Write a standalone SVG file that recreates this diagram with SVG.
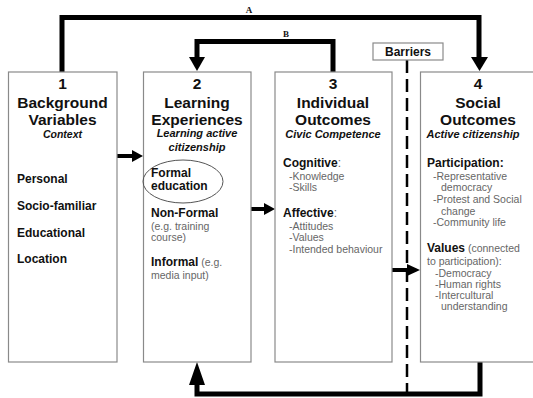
<svg xmlns="http://www.w3.org/2000/svg" width="533" height="398" viewBox="0 0 533 398">
<style>
text{font-family:"Liberation Sans",Arial,sans-serif;fill:#111}
.box{fill:#fff;stroke:#8a8a8a;stroke-width:1.2}
.num,.ttl{font-size:15.5px;font-weight:bold;text-anchor:middle}
.sub{font-size:11px;font-weight:bold;font-style:italic;text-anchor:middle}
.b{font-size:12px;font-weight:bold}
.g{font-size:10.5px;fill:#666;font-weight:normal}
.con{fill:none;stroke:#000;stroke-width:5}
.arr{fill:none;stroke:#000;stroke-width:4}
.lbl{font-family:"Liberation Serif","Times New Roman",serif;font-size:9px;font-weight:bold;text-anchor:middle}
</style>
<rect width="533" height="398" fill="#fff"/>
<g id="connectors">
<path class="con" d="M62,72 V17.5 H479 V58"/>
<polygon points="471,57 488,57 479.5,71"/>
<text class="lbl" x="249" y="13">A</text>
<path class="con" d="M333,72 V41.5 H197 V58"/>
<polygon points="189,57 205,57 197,71"/>
<text class="lbl" x="286" y="37">B</text>
<path class="con" d="M480,362 V394 H197 V384"/>
<polygon points="189,385 205,385 197,362"/>
<line class="arr" x1="117" y1="156" x2="134" y2="156"/>
<polygon points="132,150 143,156 132,162"/>
<line class="arr" x1="251" y1="209" x2="265" y2="209"/>
<polygon points="264,203 275,209 264,215"/>
<line class="arr" x1="392" y1="270" x2="409" y2="270"/>
<polygon points="407,264 420,270 407,276"/>
</g>
<g id="barriers">
<line x1="407" y1="60" x2="407" y2="398" stroke="#000" stroke-width="2.5" stroke-dasharray="13 6"/>
<rect class="box" x="373" y="43" width="70" height="17"/>
<text class="b" x="408" y="56" text-anchor="middle">Barriers</text>
</g>
<g id="box1">
<rect class="box" x="8.5" y="72" width="108.5" height="290"/>
<text class="num" x="62.5" y="89">1</text>
<text class="ttl" x="62.5" y="107.5">Background</text>
<text class="ttl" x="62.5" y="124.5">Variables</text>
<text class="sub" x="62.5" y="138" style="font-size:10.5px">Context</text>
<text class="b" x="17" y="183">Personal</text>
<text class="b" x="17" y="210">Socio-familiar</text>
<text class="b" x="17" y="237">Educational</text>
<text class="b" x="17" y="263">Location</text>
</g>
<g id="box2">
<rect class="box" x="143.5" y="72" width="107.5" height="290"/>
<text class="num" x="197" y="89">2</text>
<text class="ttl" x="197" y="107.5">Learning</text>
<text class="ttl" x="197" y="124.5">Experiences</text>
<text class="sub" x="197" y="137">Learning active</text>
<text class="sub" x="197" y="151">citizenship</text>
<ellipse cx="183" cy="181.5" rx="40" ry="21.5" fill="none" stroke="#555" stroke-width="1"/>
<text class="b" x="151" y="177">Formal</text>
<text class="b" x="151" y="190">education</text>
<text class="b" x="151" y="217">Non-Formal</text>
<text class="g" x="151" y="230">(e.g. training</text>
<text class="g" x="151" y="241">course)</text>
<text class="b" x="151" y="266">Informal<tspan class="g"> (e.g.</tspan></text>
<text class="g" x="151" y="279">media input)</text>
</g>
<g id="box3">
<rect class="box" x="275" y="72" width="117" height="290"/>
<text class="num" x="333" y="89">3</text>
<text class="ttl" x="333" y="107.5">Individual</text>
<text class="ttl" x="333" y="124.5">Outcomes</text>
<text class="sub" x="333" y="138">Civic Competence</text>
<text class="b" x="283" y="167">Cognitive<tspan class="g" style="font-size:12px">:</tspan></text>
<text class="g" x="289" y="180">-Knowledge</text>
<text class="g" x="289" y="191">-Skills</text>
<text class="b" x="283" y="217">Affective<tspan class="g" style="font-size:12px">:</tspan></text>
<text class="g" x="289" y="230">-Attitudes</text>
<text class="g" x="289" y="241">-Values</text>
<text class="g" x="289" y="253">-Intended behaviour</text>
</g>
<g id="box4">
<rect class="box" x="420.5" y="72" width="120" height="290"/>
<text class="num" x="478" y="89">4</text>
<text class="ttl" x="478" y="107.5">Social</text>
<text class="ttl" x="478" y="124.5">Outcomes</text>
<text class="sub" x="473" y="138">Active citizenship</text>
<text class="b" x="427" y="167">Participation:</text>
<text class="g" x="433" y="180">-Representative</text>
<text class="g" x="441" y="191">democracy</text>
<text class="g" x="433" y="203">-Protest and Social</text>
<text class="g" x="441" y="215">change</text>
<text class="g" x="433" y="226">-Community life</text>
<text class="b" x="427" y="252">Values<tspan class="g"> (connected</tspan></text>
<text class="g" x="427" y="265">to participation):</text>
<text class="g" x="435" y="277">-Democracy</text>
<text class="g" x="435" y="288">-Human rights</text>
<text class="g" x="435" y="299">-Intercultural</text>
<text class="g" x="441" y="310">understanding</text>
</g>
</svg>
